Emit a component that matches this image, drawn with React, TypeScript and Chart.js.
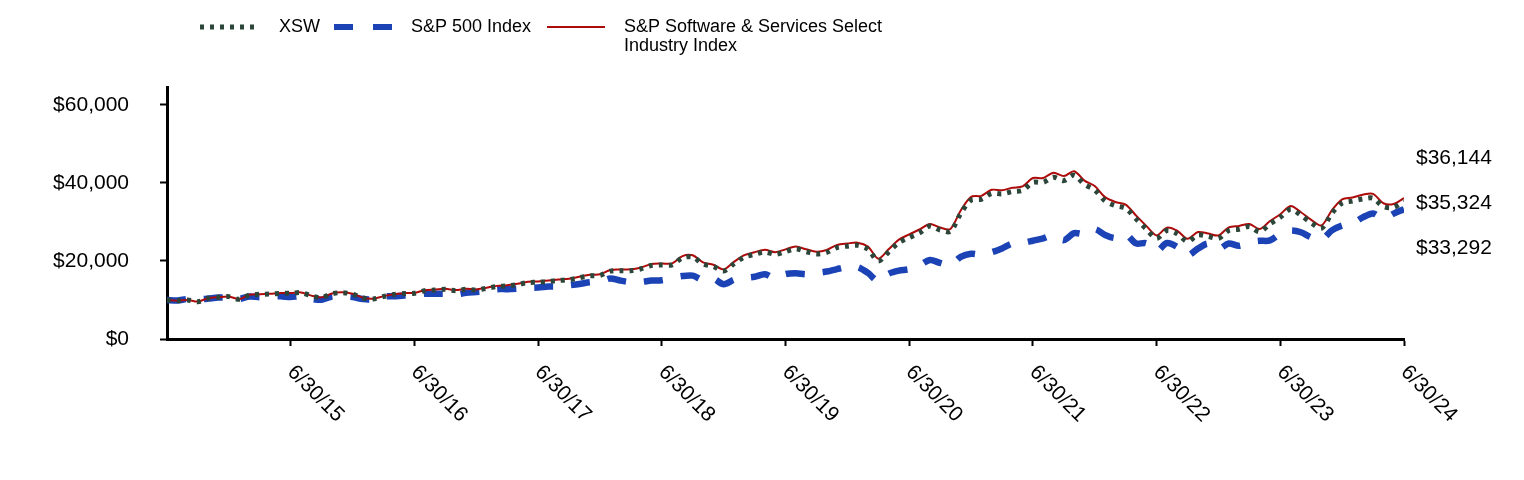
import React, { useEffect, useRef } from 'react';
import { Chart, registerables } from 'chart.js';

Chart.register(...registerables);

const tickLabels = ['6/30/14', '6/30/15', '6/30/16', '6/30/17', '6/30/18', '6/30/19', '6/30/20', '6/30/21', '6/30/22', '6/30/23', '6/30/24'];

const yTickValues = [0, 20000, 40000, 60000];

const seriesNames = ['XSW', 'S&P 500 Index', 'S&P Software & Services Select Industry Index'];

const xswValues = [
  10000, 9820, 10000, 9570, 10430, 10690, 10860, 10170, 11280, 11450, 11540, 11710,
  11710, 11880, 11050, 10600, 11600, 11880, 11500, 10500, 10250, 10900, 11400, 11650,
  11710, 12390, 12560, 12730, 12390, 12730, 12560, 13000, 13450, 13600, 13950, 14450,
  14550, 14750, 15000, 15200, 15700, 16200, 16300, 17400, 17520, 17520, 18000, 18850,
  18960, 19000, 20800, 21000, 19200, 18600, 17430, 19300, 21000, 21700, 22300, 21700,
  22390, 23080, 22390, 21790, 22200, 23450, 23800, 24000, 23000, 20000, 22300, 24700,
  26000, 27200, 28970, 27950, 27600, 32200, 35600, 35820, 37300, 37200, 37770, 38100,
  40170, 40170, 41450, 40600, 42000, 39600, 38200, 35400, 34180, 33500, 30800, 28200,
  25820, 27800, 27000, 25000, 26670, 26300, 25800, 27800, 28150, 28800, 27500, 29500,
  31200, 33250, 31700, 29800, 28400, 32200, 34850, 35350, 35900, 36100, 33930, 33760,
  35324,
];

const sp500Values = [
  10000, 9862, 10256, 10113, 10360, 10639, 10612, 10294, 10886, 10714, 10817, 10956,
  10744, 10970, 10308, 10054, 10903, 10936, 10763, 10229, 10216, 10909, 10951, 11148,
  11177, 11589, 11605, 11607, 11396, 11818, 12052, 12281, 12769, 12784, 12916, 13098,
  13179, 13450, 13492, 13770, 14091, 14524, 14685, 15526, 14953, 14573, 14628, 14981,
  15074, 15635, 16145, 16237, 15126, 15434, 14040, 15165, 15652, 15955, 16601, 15547,
  16643, 16883, 16616, 16926, 17293, 17921, 18462, 18455, 16937, 14845, 16749, 17546,
  17895, 18904, 20263, 19493, 18975, 21053, 21862, 21641, 22240, 23214, 24454, 24625,
  25198, 25798, 26582, 25346, 27123, 26936, 28143, 26688, 25890, 26850, 24509, 24553,
  22527, 24604, 23600, 21426, 23162, 24458, 23049, 24495, 23897, 24774, 25161, 25269,
  26939, 27804, 27362, 26057, 25510, 27839, 29102, 29591, 31171, 32174, 30862, 32150,
  33292,
];

const softwareValues = [
  10000, 9830, 10020, 9590, 10460, 10720, 10900, 10210, 11330, 11500, 11600, 11770,
  11780, 11950, 11120, 10670, 11680, 11970, 11590, 10580, 10330, 10990, 11500, 11750,
  11820, 12510, 12690, 12870, 12530, 12880, 12710, 13160, 13620, 13780, 14140, 14650,
  14760, 14970, 15230, 15440, 15960, 16470, 16580, 17710, 17840, 17850, 18350, 19220,
  19350, 19400, 21250, 21460, 19630, 19030, 17840, 19760, 21510, 22240, 22870, 22260,
  22980, 23700, 23000, 22390, 22820, 24110, 24480, 24700, 23680, 20600, 22980, 25460,
  26810, 28070, 29500, 28560, 28220, 32950, 36450, 36700, 38240, 38150, 38760, 39110,
  41260, 41280, 42620, 41760, 43000, 40600, 39200, 36360, 35120, 34430, 31670, 29000,
  26560, 28550, 27750, 25700, 27420, 27050, 26540, 28600, 28970, 29490, 28210, 30250,
  31990, 34100, 32500, 30550, 29110, 33000, 35800, 36250, 37000, 37200, 34800, 34600,
  36144,
];

const endLabels = ['$36,144', '$35,324', '$33,292'];

const FONT = '"Liberation Sans", Arial, Helvetica, sans-serif';
const XSW_COLOR = '#2C463A';
const SP_COLOR = '#1B43B5';
const SW_COLOR = '#AD0A0A';

const toPoints = (arr: number[]) => arr.map((v, i) => ({ x: i, y: v }));

const decorPlugin = {
  id: 'decor',
  afterDraw(chart: any) {
    const ctx = chart.ctx as CanvasRenderingContext2D;
    const xs = chart.scales.x;
    const ys = chart.scales.y;
    const area = chart.chartArea;

    // rotated x tick labels
    ctx.save();
    ctx.fillStyle = '#000';
    ctx.font = `21px ${FONT}`;
    ctx.textAlign = 'left';
    ctx.textBaseline = 'middle';
    xs.ticks.forEach((t: any) => {
      const idx = Math.round(t.value / 12);
      const label = tickLabels[idx];
      if (!label) return;
      const px = xs.getPixelForValue(t.value);
      ctx.save();
      ctx.translate(px, area.bottom + 30);
      ctx.rotate(Math.PI / 4);
      ctx.fillText(label, 0, 0);
      ctx.restore();
    });
    ctx.restore();

    // end value labels
    ctx.save();
    ctx.fillStyle = '#000';
    ctx.font = `21px ${FONT}`;
    ctx.textAlign = 'left';
    ctx.textBaseline = 'middle';
    const midY = ys.getPixelForValue(xswValues[xswValues.length - 1]);
    endLabels.forEach((lbl, k) => {
      ctx.fillText(lbl, area.right + 12, midY + 2 + (k - 1) * 45);
    });
    ctx.restore();

    // legend
    ctx.save();
    ctx.font = `18px ${FONT}`;
    ctx.fillStyle = '#000';
    ctx.textAlign = 'left';
    ctx.textBaseline = 'middle';
    const ly = 27;
    ctx.strokeStyle = XSW_COLOR;
    ctx.lineWidth = 5;
    ctx.setLineDash([4, 6]);
    ctx.lineCap = 'butt';
    ctx.beginPath();
    ctx.moveTo(200, ly);
    ctx.lineTo(256, ly);
    ctx.stroke();
    ctx.fillText(seriesNames[0], 279, 27);
    ctx.strokeStyle = SP_COLOR;
    ctx.lineWidth = 6;
    ctx.setLineDash([19, 20]);
    ctx.beginPath();
    ctx.moveTo(334, ly);
    ctx.lineTo(392, ly);
    ctx.stroke();
    ctx.fillText(seriesNames[1], 411, 27);
    ctx.strokeStyle = SW_COLOR;
    ctx.lineWidth = 2;
    ctx.setLineDash([]);
    ctx.beginPath();
    ctx.moveTo(547, ly);
    ctx.lineTo(605, ly);
    ctx.stroke();
    ctx.fillText('S&P Software & Services Select', 624, 27);
    ctx.fillText('Industry Index', 624, 46);
    ctx.restore();
  },
};

export default function App() {
  const canvasRef = useRef<HTMLCanvasElement | null>(null);

  useEffect(() => {
    if (!canvasRef.current) return;
    const chart = new Chart(canvasRef.current, {
      type: 'line',
      data: {
        datasets: [
          {
            label: seriesNames[0],
            data: toPoints(xswValues),
            borderColor: XSW_COLOR,
            borderWidth: 5,
            borderDash: [4, 6],
            borderCapStyle: 'butt',
            pointRadius: 0,
            tension: 0.3,
            fill: false,
            order: 0,
          },
          {
            label: seriesNames[2],
            data: toPoints(softwareValues),
            borderColor: SW_COLOR,
            borderWidth: 2,
            pointRadius: 0,
            tension: 0.3,
            fill: false,
            order: 1,
          },
          {
            label: seriesNames[1],
            data: toPoints(sp500Values),
            borderColor: SP_COLOR,
            borderWidth: 6.5,
            borderDash: [19, 18],
            borderCapStyle: 'butt',
            pointRadius: 0,
            tension: 0.3,
            fill: false,
            order: 2,
          },
        ],
      },
      options: {
        responsive: false,
        animation: false,
        layout: { padding: { top: 87, right: 120, left: 0, bottom: 0 } },
        plugins: {
          legend: { display: false },
          tooltip: { enabled: false },
        },
        scales: {
          x: {
            type: 'linear',
            min: 0,
            max: 120,
            afterBuildTicks: (scale: any) => {
              scale.ticks = tickLabels.slice(1).map((_, k) => ({ value: (k + 1) * 12 }));
            },
            afterFit: (scale: any) => {
              scale.height = 141;
            },
            ticks: { stepSize: 12, display: false },
            grid: {
              drawOnChartArea: false,
              drawTicks: true,
              tickLength: 7,
              tickWidth: 2,
              tickColor: '#000',
            },
            border: { display: true, color: '#000', width: 3 },
          },
          y: {
            min: 0,
            max: 64600,
            afterBuildTicks: (scale: any) => {
              scale.ticks = yTickValues.map((v) => ({ value: v }));
            },
            afterFit: (scale: any) => {
              scale.width = 167;
            },
            ticks: {
              stepSize: 20000,
              color: '#000',
              padding: 31,
              autoSkip: false,
              font: { size: 21, family: FONT },
              callback: (v: any) => '$' + Number(v).toLocaleString('en-US'),
            },
            grid: {
              drawOnChartArea: false,
              drawTicks: true,
              tickLength: 7,
              tickWidth: 2,
              tickColor: '#000',
            },
            border: { display: true, color: '#000', width: 3 },
          },
        },
      },
      plugins: [decorPlugin],
    });
    return () => chart.destroy();
  }, []);

  return (
    <div style={{ position: 'absolute', left: 0, top: 0, width: 1524, height: 480, background: '#fff' }}>
      <canvas ref={canvasRef} width={1524} height={480} style={{ display: 'block' }} />
    </div>
  );
}
